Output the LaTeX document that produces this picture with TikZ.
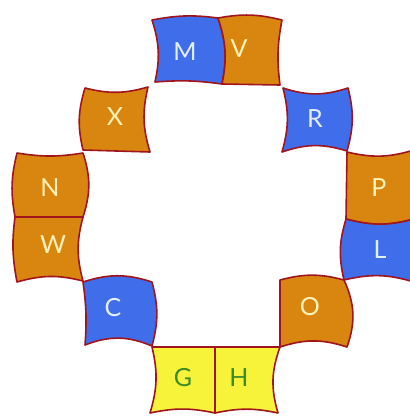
\documentclass[tikz,border=0pt]{standalone}
\usepackage{fontspec}
\setmainfont{Lato}
\definecolor{blueT}{HTML}{406EEB}
\definecolor{orangeT}{HTML}{D8860F}
\definecolor{yellowT}{HTML}{F7F23A}
\definecolor{edgeT}{HTML}{A0141E}
\definecolor{cream}{HTML}{FFF3B8}
\definecolor{paleblue}{HTML}{E4EEFF}
\definecolor{greenT}{HTML}{3C8C28}
\begin{document}
\begin{tikzpicture}[x=1pt,y=1pt,
  tileedge/.style={draw=edgeT, line width=1.6pt, line join=round},
  lab/.style={font=\fontsize{25}{25}\selectfont, inner sep=0pt}]
\useasboundingbox (0,0) rectangle (410,-416);
% M
\draw[tileedge, fill=blueT] (152,-20) to[bend left=9] (218,-18) to[bend left=15] (222,-84) to[bend left=-6] (155,-82) to[bend left=-15] cycle;
% V
\draw[tileedge, fill=orangeT] (218,-18) to[bend left=12] (282,-20) to[bend left=-9] (280,-85) to[bend left=0] (222,-84) to[bend left=-15] cycle;
% X
\draw[tileedge, fill=orangeT] (85,-88) to[bend left=-15] (148,-87) to[bend left=-15] (150,-152) to[bend left=0] (83,-150) to[bend left=15] cycle;
% R
\draw[tileedge, fill=blueT] (283,-88) to[bend left=-18] (348,-88) to[bend left=15] (347,-151) to[bend left=-18] (282,-152) to[bend left=-15] cycle;
% P
\draw[tileedge, fill=orangeT] (347,-152) to[bend left=-15] (414,-150) -- (414,-219) to[bend left=15] (346,-219) -- cycle;
% L
\draw[tileedge, fill=orangeT!0!blueT] (346,-219) to[bend left=-15] (414,-219) -- (414,-282) to[bend left=-15] (344,-280) to[bend left=15] cycle;
% O
\draw[tileedge, fill=orangeT] (280,-280) to[bend left=15] (344,-280) to[bend left=22] (347,-347) to[bend left=-18] (280,-347) -- cycle;
% H
\draw[tileedge, fill=yellowT] (215,-347) -- (280,-347) to[bend left=-18] (278,-413) to[bend left=-12] (215,-413) -- cycle;
% G
\draw[tileedge, fill=yellowT] (152,-347) -- (215,-347) -- (215,-413) to[bend left=-12] (150,-413) to[bend left=-15] cycle;
% C
\draw[tileedge, fill=blueT] (83,-282) to[bend left=18] (152,-282) to[bend left=15] (152,-346) to[bend left=-22] (85,-345) to[bend left=-6] cycle;
% W
\draw[tileedge, fill=orangeT] (15,-217) -- (83,-217) to[bend left=-15] (83,-281) to[bend left=-15] (17,-282) to[bend left=9] cycle;
% N
\draw[tileedge, fill=orangeT] (17,-153) to[bend left=-9] (83,-153) to[bend left=18] (83,-217) -- (15,-217) to[bend left=12] cycle;
% labels
\node[lab, text=paleblue] (tM) at (185,-52) {M};
\node[lab, text=cream] (tV) at (239,-49) {V};
\node[lab, text=cream] (tX) at (115,-117) {X};
\node[lab, text=paleblue] (tR) at (315,-119) {R};
\node[lab, text=cream] (tP) at (379,-188) {P};
\node[lab, text=paleblue] (tL) at (380,-250) {L};
\node[lab, text=cream] (tO) at (310,-307) {O};
\node[lab, text=cream] (tN) at (50,-188) {N};
\node[lab, text=cream] (tW) at (53,-245) {W};
\node[lab, text=paleblue] (tC) at (113,-308) {C};
\node[lab, text=greenT] (tG) at (183,-378) {G};
\node[lab, text=greenT] (tH) at (239,-378) {H};
\end{tikzpicture}
\end{document}
